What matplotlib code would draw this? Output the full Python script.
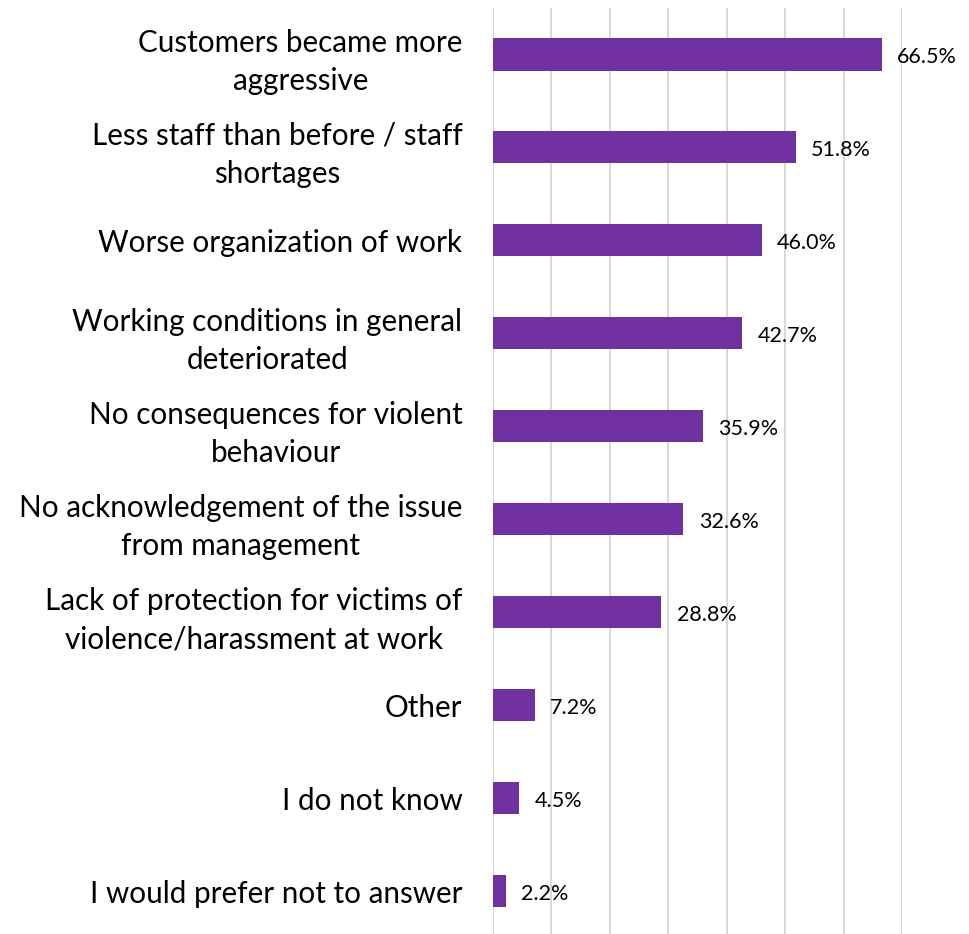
import matplotlib.pyplot as plt

categories = [
    'Customers became more\naggressive',
    'Less staff than before / staff\nshortages',
    'Worse organization of work',
    'Working conditions in general\ndeteriorated',
    'No consequences for violent\nbehaviour',
    'No acknowledgement of the issue\nfrom management',
    'Lack of protection for victims of\nviolence/harassment at work',
    'Other',
    'I do not know',
    'I would prefer not to answer',
]
values = [66.5, 51.8, 46.0, 42.7, 35.9, 32.6, 28.8, 7.2, 4.5, 2.2]

plt.rcParams['font.family'] = ['Lato', 'DejaVu Sans']

fig = plt.figure(figsize=(9.69, 9.34), dpi=100)
ax = fig.add_axes([493 / 969, 0, (902 - 493) / 969, 926 / 934])

pos = list(range(len(categories)))
bars = ax.barh(pos, values, height=0.345, color='#7030A0', zorder=3)

for b, v in zip(bars, values):
    ax.annotate(f'{v:.1f}%', (b.get_width(), b.get_y() + b.get_height() / 2),
                xytext=(11, -2), textcoords='offset points',
                va='center', ha='left', fontsize=15.5, color='#000000')

ax.set_xlim(0, 70)
ax.set_ylim(9.46, -0.5)
ax.set_xticks(range(0, 71, 10))
ax.xaxis.grid(True, color='#D9D9D9', linewidth=1.5, zorder=0)
ax.tick_params(axis='x', bottom=False, labelbottom=False)
ax.set_yticks(pos)
ax.set_yticklabels(categories, fontsize=21.3, multialignment='center',
                   linespacing=1.45)
ax.tick_params(axis='y', length=0, pad=22)
for s in ax.spines.values():
    s.set_visible(False)

fig.savefig('out.png', dpi=100)
